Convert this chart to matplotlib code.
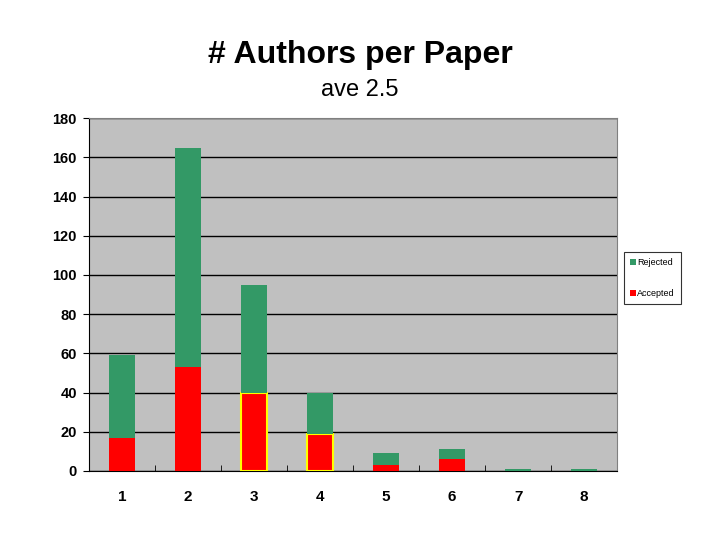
import numpy as np
import matplotlib.pyplot as plt

plt.rcParams['font.family'] = ['Liberation Sans', 'DejaVu Sans']

authors = ['1', '2', '3', '4', '5', '6', '7', '8']
accepted = [17, 53, 40, 19, 3, 6, 0, 0]
rejected = [42, 112, 55, 21, 6, 5, 1, 1]
highlight = [False, False, True, True, False, False, False, False]

green = '#339966'
red = '#ff0000'

fig = plt.figure(figsize=(7.2, 5.4), dpi=100)
ax = fig.add_axes([0.124, 0.128, 0.733, 0.653])
ax.set_facecolor('#c0c0c0')

x = np.arange(len(authors))
acc_bars = ax.bar(x, accepted, width=0.4, color=red, label='Accepted', zorder=3)
rej_bars = ax.bar(x, rejected, width=0.4, bottom=accepted, color=green,
                  label='Rejected', zorder=3)
for b, h in zip(acc_bars, highlight):
    if h:
        b.set_edgecolor('#ffff00')
        b.set_linewidth(1.5)

ax.set_xlim(-0.5, len(authors) - 0.5)
ax.set_ylim(0, 180)
ax.set_yticks(range(0, 181, 20))
ax.yaxis.grid(True, color='black', linewidth=1, zorder=1)
ax.set_axisbelow(True)

ax.set_xticks(x)
ax.set_xticklabels(authors, fontsize=11, fontweight='bold')
ax.tick_params(axis='x', length=0, pad=14)
ax.set_xticks(np.arange(len(authors) + 1) - 0.5, minor=True)
ax.tick_params(axis='x', which='minor', direction='in', length=4, color='black')
ax.tick_params(axis='y', direction='out', length=4, labelsize=10.5, pad=5)
for t in ax.get_yticklabels():
    t.set_fontweight('bold')

for side in ['top', 'right']:
    ax.spines[side].set_color('#808080')
ax.spines['left'].set_color('black')
ax.spines['bottom'].set_color('black')

fig.text(0.5, 0.898, '# Authors per Paper', ha='center', va='center',
         fontsize=23, fontweight='bold')
fig.text(0.5, 0.834, 'ave 2.5', ha='center', va='center', fontsize=17)

handles = [rej_bars, acc_bars]
leg = ax.legend(handles, ['Rejected', 'Accepted'], loc='center left',
                bbox_to_anchor=(1.013, 0.547), fontsize=6.5, frameon=True,
                fancybox=False, edgecolor='black', handlelength=0.6,
                handleheight=0.6, labelspacing=2.4, borderpad=0.7,
                handletextpad=0.2, borderaxespad=0)
leg.get_frame().set_linewidth(0.8)

fig.savefig('out.png', dpi=100)
